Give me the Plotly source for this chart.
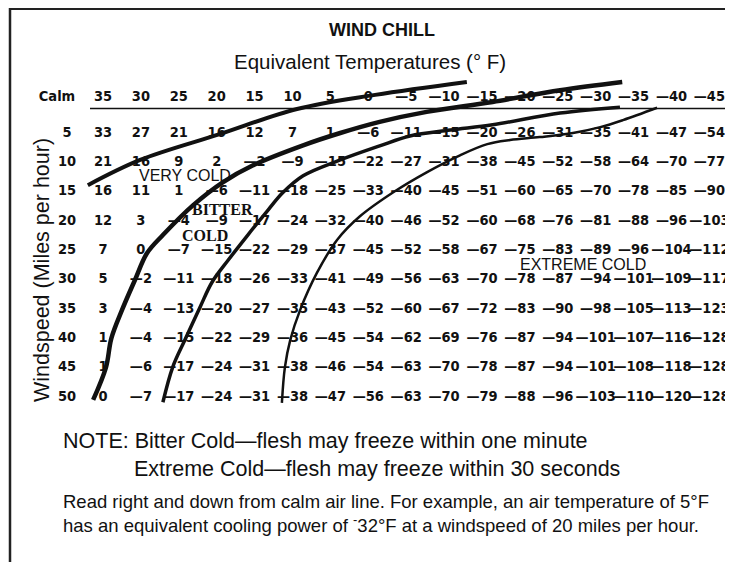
import plotly.graph_objects as go

# ---------------- data ----------------
temperatures = [35, 30, 25, 20, 15, 10, 5, 0, -5, -10, -15, -20, -25, -30, -35, -40, -45]
windspeeds = [5, 10, 15, 20, 25, 30, 35, 40, 45, 50]
wind_chill = [
    [33, 27, 21, 16, 12, 7, 1, -6, -11, -15, -20, -26, -31, -35, -41, -47, -54],
    [21, 16, 9, 2, -2, -9, -15, -22, -27, -31, -38, -45, -52, -58, -64, -70, -77],
    [16, 11, 1, -6, -11, -18, -25, -33, -40, -45, -51, -60, -65, -70, -78, -85, -90],
    [12, 3, -4, -9, -17, -24, -32, -40, -46, -52, -60, -68, -76, -81, -88, -96, -103],
    [7, 0, -7, -15, -22, -29, -37, -45, -52, -58, -67, -75, -83, -89, -96, -104, -112],
    [5, -2, -11, -18, -26, -33, -41, -49, -56, -63, -70, -78, -87, -94, -101, -109, -117],
    [3, -4, -13, -20, -27, -35, -43, -52, -60, -67, -72, -83, -90, -98, -105, -113, -123],
    [1, -4, -15, -22, -29, -36, -45, -54, -62, -69, -76, -87, -94, -101, -107, -116, -128],
    [1, -6, -17, -24, -31, -38, -46, -54, -63, -70, -78, -87, -94, -101, -108, -118, -128],
    [0, -7, -17, -24, -31, -38, -47, -56, -63, -70, -79, -88, -96, -103, -110, -120, -128],
]

# zone boundary curves (temperature, windspeed)
curve1_t = [37.0, 30.1, 19.6, 9.4, -0.9, -13.0]
curve1_w = [13.9, 9.6, 5.2, 0.9, -1.5, -3.7]

curve2_t = [36.3, 34.6, 33.9, 32.5, 30.8, 29.2, 27.1, 23.1, 19.2, 15.2, 8.6, 3.7, -1.5, -7.7, -16.4, -25.3, -33.5]
curve2_w = [50.5, 44.9, 40.0, 35.2, 30.1, 25.5, 22.4, 17.3, 13.4, 10.5, 7.1, 5.0, 3.1, 1.4, -0.3, -2.3, -3.7]

curve3_t = [27.1, 25.8, 24.2, 22.2, 20.6, 18.5, 15.9, 13.2, 11.3, 8.6, 3.7, -1.5, -5.5, -10.8, -16.4, -25.3, -33.2]
curve3_w = [50.9, 44.9, 40.3, 34.7, 30.4, 26.7, 22.4, 18.1, 15.2, 12.3, 9.6, 7.2, 5.5, 4.5, 3.6, 1.6, 0.6]

curve4_t = [11.4, 11.0, 10.3, 9.0, 6.8, 4.1, 1.1, -3.3, -7.7, -12.1, -15.7, -18.7, -22.6, -27.0, -30.6, -33.6, -38.1]
curve4_w = [51.0, 44.9, 40.3, 35.2, 28.9, 23.2, 19.2, 15.1, 11.7, 8.8, 6.9, 6.2, 5.7, 5.0, 4.0, 2.8, 0.7]

header_label = "Calm"
zone_labels = ["VERY COLD", "BITTER", "COLD", "EXTREME COLD"]
zone_t = [24.2, 19.2, 21.6, -28.3]
zone_w = [12.2, 18.1, 22.4, 27.5]

title_lines = ["WIND CHILL", "Equivalent Temperatures (° F)"]
y_title = "Windspeed (Miles per hour)"
notes = [
    "NOTE: Bitter Cold\u2014flesh may freeze within one minute",
    "Extreme Cold\u2014flesh may freeze within 30 seconds",
    "Read right and down from calm air line. For example, an air temperature of 5°F",
    "has an equivalent cooling power of <sup>-</sup>32°F at a windspeed of 20 miles per hour.",
]

# ---------------- layout geometry ----------------
OFF = 8                      # page body margin around the figure
W_PX, H_PX = 733 - OFF, 562 - OFF
X0_PX, DX_PX = 103.0 - OFF, 37.9 / 5.0   # px of 35°F column, px per °F
Y0_PX, DY_PX = 133.0 - OFF, 29.33 / 5.0  # px of 5 mph row, px per mph


def t_at(px):
    return 35 - (px - OFF - X0_PX) / DX_PX


def w_at(py):
    return 5 + (py - OFF - Y0_PX) / DY_PX


def fmt(v):
    return ("\u2014" + str(-v)) if v < 0 else str(v)


header_w = w_at(97)
label_t = t_at(67)
calm_label_t = t_at(57)
calm_line_w = w_at(108.5)

num_font = dict(family="Liberation Sans Narrow, Arial Narrow, DejaVu Sans Condensed", size=14.5,
                color="#111111", weight="bold")

fig = go.Figure()

# table values
xs, ys, txt = [], [], []
for i, w in enumerate(windspeeds):
    for j, t in enumerate(temperatures):
        xs.append(t)
        ys.append(w)
        txt.append(fmt(wind_chill[i][j]))
fig.add_trace(go.Scatter(x=xs, y=ys, text=txt, mode="text", textfont=num_font,
                         hoverinfo="skip", showlegend=False))

# header row of temperatures
fig.add_trace(go.Scatter(x=temperatures, y=[header_w] * len(temperatures),
                         text=[fmt(t) for t in temperatures], mode="text", textfont=num_font,
                         hoverinfo="skip", showlegend=False))
# Calm + windspeed labels
fig.add_trace(go.Scatter(x=[calm_label_t] + [label_t] * len(windspeeds),
                         y=[header_w] + windspeeds,
                         text=[header_label] + [str(w) for w in windspeeds], mode="text",
                         textfont=num_font, hoverinfo="skip", showlegend=False))

# boundary curves
for ct, cw, lw in [(curve1_t, curve1_w, 4), (curve2_t, curve2_w, 4.5),
                   (curve3_t, curve3_w, 3.5), (curve4_t, curve4_w, 2.5)]:
    fig.add_trace(go.Scatter(x=ct, y=cw, mode="lines", line=dict(color="#111111", width=lw, shape="spline"),
                             hoverinfo="skip", showlegend=False))

# zone labels
zone_fonts = [
    dict(family="Liberation Sans, Arial", size=16, color="#111111"),
    dict(family="Liberation Serif, Times New Roman", size=16, color="#111111", weight="bold"),
    dict(family="Liberation Serif, Times New Roman", size=16, color="#111111", weight="bold"),
    dict(family="Liberation Sans, Arial", size=16, color="#111111"),
]
for lab, t, w, f in zip(zone_labels, zone_t, zone_w, zone_fonts):
    fig.add_annotation(x=t, y=w, xref="x", yref="y", text=lab, showarrow=False, font=f)


def px_x(px):
    return (px - OFF) / W_PX


def px_y(py):
    return 1 - (py - OFF) / H_PX


# calm air line
fig.add_shape(type="line", xref="paper", yref="y", x0=px_x(90), x1=px_x(728),
              y0=calm_line_w, y1=calm_line_w, line=dict(color="#111111", width=1.5))

# frame (top and left edges)
fig.add_shape(type="line", xref="paper", yref="paper", x0=px_x(9), x1=1.0,
              y0=px_y(9), y1=px_y(9), line=dict(color="#222222", width=2))
fig.add_shape(type="line", xref="paper", yref="paper", x0=px_x(10), x1=px_x(10),
              y0=px_y(8), y1=0, line=dict(color="#222222", width=2.5))


def pa(px, py, text, size, anchor="center", angle=0, family="Liberation Sans, Arial", weight="normal"):
    fig.add_annotation(x=px_x(px), y=px_y(py), xref="paper", yref="paper", text=text,
                       showarrow=False, xanchor=anchor, yanchor="middle", textangle=angle,
                       font=dict(family=family, size=size, color="#111111", weight=weight))


pa(382, 30, title_lines[0], 18, weight="bold")
pa(370, 61, title_lines[1], 20.5)
pa(42, 270, y_title, 21.5, angle=-90)
pa(61, 441, notes[0], 21.5, anchor="left")
pa(132, 469, notes[1], 21.5, anchor="left")
pa(61, 501, notes[2], 18.5, anchor="left")
pa(61, 524, notes[3], 18.5, anchor="left")

fig.update_layout(
    width=W_PX, height=H_PX, margin=dict(l=0, r=0, t=0, b=0, pad=0),
    paper_bgcolor="white", plot_bgcolor="white",
    xaxis=dict(range=[t_at(OFF), t_at(OFF + W_PX)], visible=False, fixedrange=True),
    yaxis=dict(range=[w_at(OFF + H_PX), w_at(OFF)], visible=False, fixedrange=True),
)

fig.write_html("out.html")
